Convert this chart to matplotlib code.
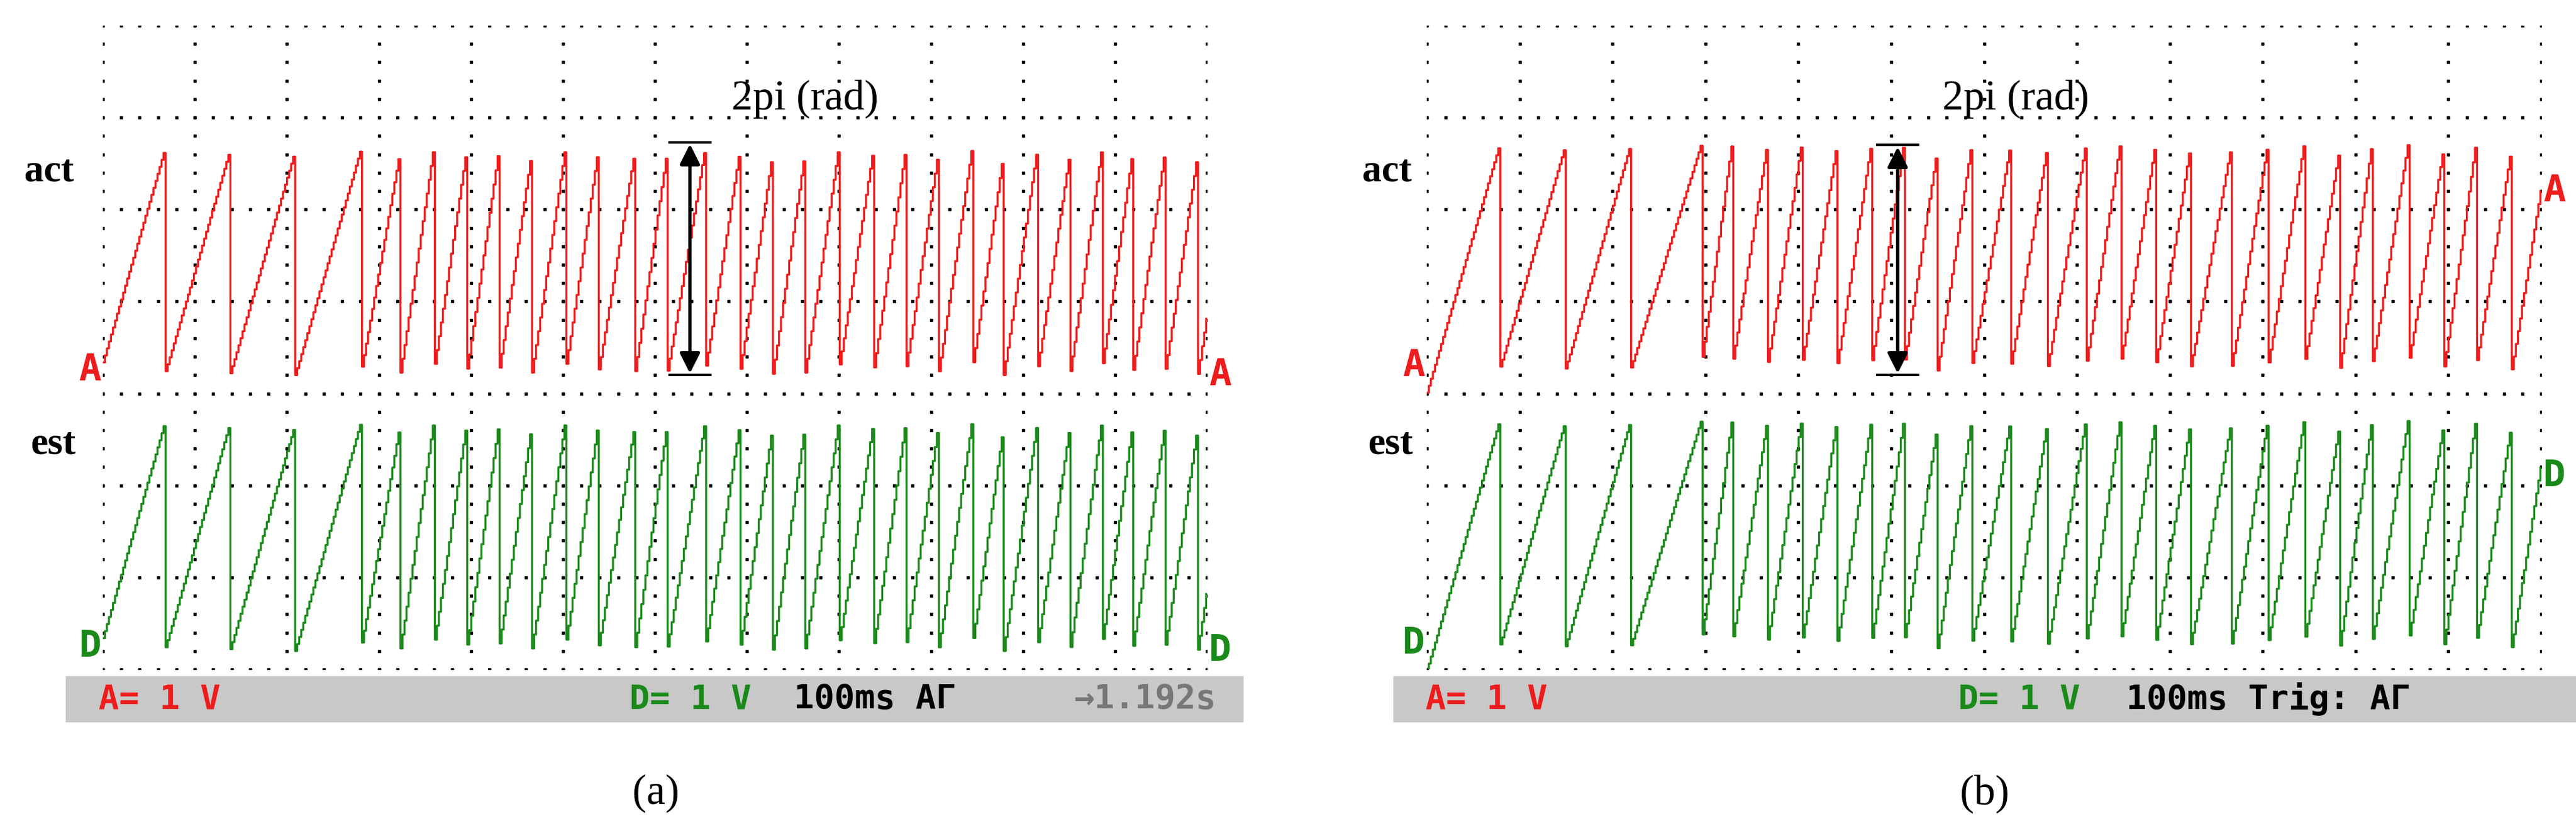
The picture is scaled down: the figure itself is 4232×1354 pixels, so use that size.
import numpy as np
import matplotlib
matplotlib.use("Agg")
import matplotlib.pyplot as plt
from matplotlib.patches import Rectangle

W, H = 4232, 1354
# reset (drop) times in grid divisions
a_act_resets = [0.67, 1.38, 2.09, 2.80, 3.23, 3.59, 3.95, 4.30, 4.66, 5.02, 5.38, 5.78, 6.13, 6.54,
                6.92, 7.28, 7.63, 7.99, 8.37, 8.72, 9.08, 9.44, 9.79, 10.15, 10.51, 10.85, 11.19, 11.54, 11.90]
a_est_resets = a_act_resets
b_act_resets = [0.78, 1.49, 2.19, 2.95, 3.28, 3.66, 4.03, 4.41, 4.78, 5.13, 5.50, 5.86, 6.28, 6.68,
                7.09, 7.46, 7.84, 8.22, 8.66, 9.05, 9.44, 9.83, 10.17, 10.56, 10.95, 11.29, 11.68]
b_est_resets = b_act_resets
act_range_a = (3.2, 5.65)
est_range_a = (0.2, 2.68)
act_range_b = (3.25, 5.7)
est_range_b = (0.23, 2.7)
arrow_a = (6.38, 5.73, 3.2)
arrow_b = (5.07, 5.7, 3.2)

RED = "#ee1c1c"
GREEN = "#1a8a1a"

def saw(resets, lo, hi, dt=0.022):
    x = np.arange(0, 12.0001, dt)
    y = np.empty_like(x)
    r = np.array(resets)
    for i, xi in enumerate(x):
        k = np.searchsorted(r, xi, side="right")
        if k == 0:
            start, end = r[0] - (r[1] - r[0]), r[0]
        elif k < len(r):
            start, end = r[k - 1], r[k]
        else:
            start = r[-1]
            end = r[-1] + (r[-1] - r[-2])
        y[i] = lo + (hi - lo) * (xi - start) / (end - start)
    return x, y

fig = plt.figure(figsize=(W / 100, H / 100), dpi=100)

def fx(px): return px / W
def fy(py): return 1 - py / H

def panel(gl, gr, bar_l, bar_r, act, est, ar_act, ar_est, arrow, texts, lab, labx, actx, estx, arrowtext_x, right_markers):
    ax = fig.add_axes([fx(gl), fy(1100), fx(gr - gl), (1100 - 42) / H])
    ax.set_xlim(0, 12); ax.set_ylim(0, 7)
    ax.axis("off")
    for xv in range(13):
        yy = np.arange(0, 7.001, 0.2)
        ax.plot(np.full_like(yy, xv), yy, ls="none", marker="s", ms=2.5, color="black")
    for yv in range(8):
        xx = np.arange(0, 12.001, 0.2)
        ax.plot(xx, np.full_like(xx, yv), ls="none", marker="s", ms=2.5, color="black")
    x, y = saw(act, *ar_act)
    ax.plot(x, y, drawstyle="steps-post", color=RED, lw=2.4, zorder=3)
    x, y = saw(est, *ar_est)
    ax.plot(x, y, drawstyle="steps-post", color=GREEN, lw=2.4, zorder=3)
    xa, y1, y0 = arrow
    ax.annotate("", xy=(xa, y0), xytext=(xa, y1),
                arrowprops=dict(arrowstyle="<|-|>", color="black", lw=4, mutation_scale=50), zorder=5)
    ax.plot([xa - 0.22, xa + 0.22], [y1, y1], color="black", lw=3, zorder=5)
    ax.plot([xa - 0.22, xa + 0.22], [y0, y0], color="black", lw=3, zorder=5)
    ax.text(arrowtext_x, 6.2, "2pi (rad)", ha="center", va="center", fontsize=50, family="Liberation Serif")
    mono = dict(family="DejaVu Sans Mono", fontweight="bold", fontsize=44)
    ax.text(-0.14, ar_act[0] + 0.05, "A", color=RED, ha="center", va="center", clip_on=False, **mono)
    ax.text(-0.14, ar_est[0] + 0.05, "D", color=GREEN, ha="center", va="center", clip_on=False, **mono)
    ax.text(12.14, right_markers[0], "A", color=RED, ha="center", va="center", clip_on=False, **mono)
    ax.text(12.14, right_markers[1], "D", color=GREEN, ha="center", va="center", clip_on=False, **mono)
    bar = fig.add_axes([fx(bar_l), fy(1187), fx(bar_r - bar_l), 76 / H])
    bar.set_xlim(bar_l, bar_r); bar.set_ylim(0, 1); bar.axis("off")
    bar.add_patch(Rectangle((bar_l, 0), bar_r - bar_l, 1, color="#c8c8c8"))
    for tx, s, c in texts:
        bar.text(tx, 0.5, s, color=c, va="center", ha="left", family="DejaVu Sans Mono",
                 fontweight="bold", fontsize=40)
    fig.text(fx(labx), fy(1304), lab, ha="center", va="center", fontsize=50, family="Liberation Serif")
    fig.text(fx(actx), fy(283), "act", ha="center", va="center", fontsize=46, family="Liberation Serif", fontweight="bold")
    fig.text(fx(estx), fy(730), "est", ha="center", va="center", fontsize=46, family="Liberation Serif", fontweight="bold")

panel(169, 1983, 108, 2043, a_act_resets, a_est_resets, act_range_a, est_range_a, arrow_a,
      [(162, "A= 1 V", RED), (1034, "D= 1 V", GREEN), (1304, "100ms AΓ", "black"), (1764, "→1.192s", "#777777")],
      "(a)", 1077, 81, 88, 7.63, (3.2, 0.2))
panel(2344, 4175, 2289, 4232, b_act_resets, b_est_resets, act_range_b, est_range_b, arrow_b,
      [(2342, "A= 1 V", RED), (3217, "D= 1 V", GREEN), (3493, "100ms Trig: AΓ", "black")],
      "(b)", 3260, 2279, 2285, 6.34, (5.2, 2.1))

fig.savefig("out.png", dpi=100, facecolor="white")
